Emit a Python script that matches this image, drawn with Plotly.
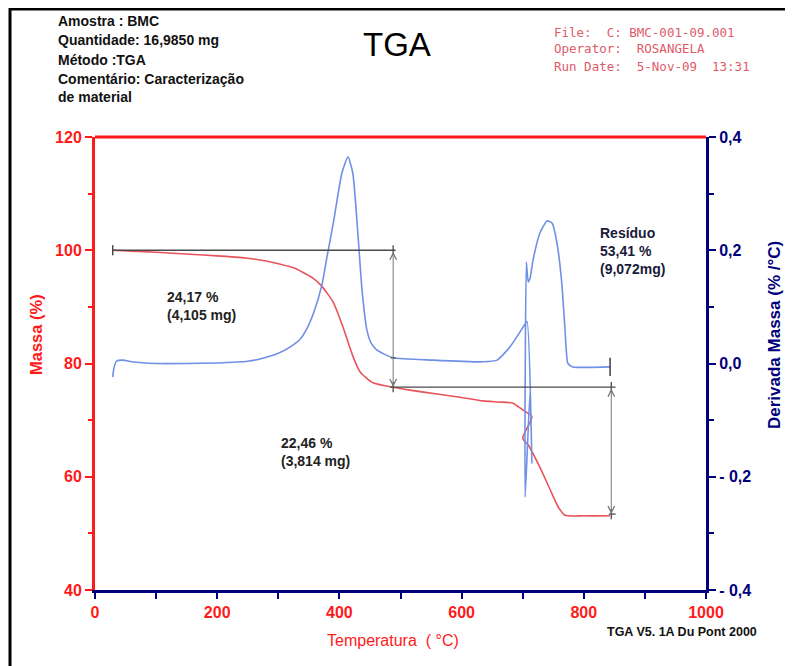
import plotly.graph_objects as go

# ---------------- data ----------------
mass_temp = [29, 60, 100, 155, 200, 250, 280, 305, 325, 340, 355, 370, 390, 406, 422, 434, 455, 488, 515,
             560, 600, 635, 660, 684, 700, 715, 700, 709, 728, 745, 758, 769, 800, 843]
mass_pct = [100.0, 99.85, 99.65, 99.3, 99.0, 98.6, 98.1, 97.5, 96.9, 96.1, 95.2, 93.8, 90.8, 86.4, 81.3, 78.5, 76.6,
            75.8, 75.3, 74.6, 74.0, 73.4, 73.2, 73.0, 71.8, 70.6, 66.8, 65.6, 61.7, 57.7, 54.7, 53.2, 53.1, 53.1]

deriv_temp = [29, 31, 35, 46, 60, 100, 150, 200, 250, 270, 300, 319, 335, 347, 358, 371, 380, 390, 404, 414,
              422, 431, 437, 445, 452, 461, 488, 553, 635, 658, 679, 700, 707, 715, 712, 704, 706, 709, 712, 717,
              728, 740, 748, 756, 764, 769, 774, 782, 843]
deriv_val = [-0.024, -0.008, 0.004, 0.006, 0.003, 0.0, 0.0, 0.001, 0.004, 0.008, 0.018, 0.029, 0.042, 0.062, 0.09,
             0.137, 0.19, 0.248, 0.336, 0.365, 0.336, 0.218, 0.13, 0.059, 0.036, 0.024, 0.010, 0.006, 0.003, 0.006,
             0.029, 0.063, 0.074, -0.176, -0.05, -0.236, 0.179, 0.144, 0.15, 0.183, 0.23, 0.252, 0.248, 0.213,
             0.142, 0.064, 0.0, -0.006, -0.006]

x_ticks = [0, 100, 200, 300, 400, 500, 600, 700, 800, 900, 1000]
x_tick_text = ["0", "", "200", "", "400", "", "600", "", "800", "", "1000"]
y_ticks = [40, 60, 80, 100, 120]
y2_ticks = [-0.4, -0.2, 0.0, 0.2, 0.4]
y2_tick_text = ["- 0,4", "- 0,2", "0,0", "0,2", "0,4"]

start_mass = 100.0
step1_mass = 75.83
residue_mass = 53.41
step1_temp = 488
end_temp = 845
start_temp = 29

header_left = ["Amostra : BMC", "Quantidade: 16,9850 mg", "Método :TGA",
               "Comentário: Caracterização", "de material"]
header_right = ["File:  C: BMC-001-09.001", "Operator:  ROSANGELA", "Run Date:  5-Nov-09  13:31"]

# ---------------- layout helpers ----------------
OFF = 8  # page body margin
W, H = 793 - OFF, 666 - OFF
L, R, T, B = 95 - OFF, 706 - OFF, 137 - OFF, 590 - OFF


def px(xp):
    return (xp - OFF - L) / (R - L)


def py(yp):
    return (B - (yp - OFF)) / (B - T)


RED = "#ff1a1a"
NAVY = "#00007a"
FONT = "Arial, Liberation Sans, sans-serif"

fig = go.Figure()
fig.add_trace(go.Scatter(x=mass_temp, y=mass_pct, mode="lines",
                         line=dict(color="#e8545a", width=1.6, shape="spline", smoothing=0.6),
                         yaxis="y", hoverinfo="skip"))
fig.add_trace(go.Scatter(x=deriv_temp, y=deriv_val, mode="lines",
                         line=dict(color="#6f90e6", width=1.6, shape="spline", smoothing=0.5),
                         yaxis="y2", hoverinfo="skip"))

shapes = []
GRAY = "#4a4a4a"
shapes.append(dict(type="line", xref="x", yref="y", x0=start_temp, x1=step1_temp + 4, y0=start_mass, y1=start_mass,
                   line=dict(color=GRAY, width=1.3)))
shapes.append(dict(type="line", xref="x", yref="y", x0=start_temp, x1=start_temp, y0=start_mass - 0.9,
                   y1=start_mass + 0.9, line=dict(color=GRAY, width=1.5)))
shapes.append(dict(type="line", xref="x", yref="y", x0=step1_temp - 5, x1=end_temp + 7, y0=step1_mass, y1=step1_mass,
                   line=dict(color=GRAY, width=1.3)))
shapes.append(dict(type="line", xref="x", yref="y", x0=end_temp - 4, x1=end_temp + 7, y0=residue_mass,
                   y1=residue_mass, line=dict(color=GRAY, width=1.3)))
for (cx, cy) in [(step1_temp, start_mass), (step1_temp, step1_mass), (end_temp, step1_mass),
                 (end_temp, residue_mass)]:
    shapes.append(dict(type="line", xref="x", yref="y", x0=cx, x1=cx, y0=cy - 0.9, y1=cy + 0.9,
                       line=dict(color=GRAY, width=1.3)))
shapes.append(dict(type="line", xref="x", yref="y2", x0=843, x1=843, y0=-0.022, y1=0.01,
                   line=dict(color="#222", width=1.3)))
shapes.append(dict(type="line", xref="x", yref="y2", x0=step1_temp - 4, x1=step1_temp + 4, y0=0.010, y1=0.010,
                   line=dict(color=GRAY, width=1.3)))
shapes.append(dict(type="line", xref="paper", yref="paper", x0=0, x1=1, y0=1, y1=1,
                   line=dict(color=RED, width=3)))
shapes.append(dict(type="rect", xref="paper", yref="paper", x0=px(10), x1=px(830), y0=py(9), y1=py(730),
                   line=dict(color="black", width=3), fillcolor="rgba(0,0,0,0)"))

ann = []
for (ax_x, y_top, y_bot) in [(step1_temp, start_mass, step1_mass), (end_temp, step1_mass, residue_mass)]:
    ann.append(dict(x=ax_x, y=y_bot, ax=ax_x, ay=y_top, xref="x", yref="y", axref="x", ayref="y",
                    showarrow=True, arrowhead=5, startarrowhead=5, arrowside="end+start", arrowsize=1.3,
                    arrowwidth=1, arrowcolor="#777", text=""))


def txt(text, x, y, size, color, xanchor="left", bold=False, angle=0, family=FONT):
    if bold:
        text = "<b>" + text + "</b>"
    ann.append(dict(text=text, x=px(x), y=py(y), xref="paper", yref="paper", showarrow=False,
                    xanchor=xanchor, yanchor="middle", align="left", textangle=angle,
                    font=dict(size=size, color=color, family=family)))


for i, s in enumerate(header_left):
    txt(s, 56, [21, 40, 60, 79, 97][i], 14, "#111", bold=True)
txt("TGA", 397, 44, 33, "black", xanchor="center")
for i, s in enumerate(header_right):
    txt(s, 552, [33, 49, 66][i], 12.5, "#e05a68", family="DejaVu Sans Mono, monospace")

txt("24,17 %<br>(4,105 mg)", 165, 306, 14, "#222", bold=True)
txt("22,46 %<br>(3,814 mg)", 279, 452, 14, "#222", bold=True)
txt("Resíduo<br>53,41 %<br>(9,072mg)", 598, 251, 14, "#1a1a3a", bold=True)

txt("Massa (%)", 36, 335, 16.5, RED, xanchor="center", bold=True, angle=-90)
txt("Derivada Massa (% /°C)", 774, 335, 17, NAVY, xanchor="center", bold=True, angle=-90)
txt("Temperatura  ( °C)", 393, 640, 16, RED, xanchor="center")
txt("TGA V5. 1A Du Pont 2000", 682, 632, 12.5, "#111", xanchor="center", bold=True)

fig.update_layout(
    width=W, height=H,
    margin=dict(l=L, r=W - R, t=T, b=H - B, pad=0),
    paper_bgcolor="white", plot_bgcolor="white",
    showlegend=False,
    font=dict(family=FONT),
    xaxis=dict(range=[0, 1000], tickvals=x_ticks, ticktext=x_tick_text, showgrid=False, zeroline=False,
               showline=True, linecolor=NAVY, linewidth=3, ticks="outside", ticklen=6, tickwidth=2,
               tickcolor=NAVY, tickfont=dict(size=16, color=RED, family=FONT, weight="bold")),
    yaxis=dict(range=[40, 120], tickvals=y_ticks, showgrid=False, zeroline=False, showline=True,
               linecolor=RED, linewidth=3, ticks="outside", ticklen=7, tickwidth=1.5, tickcolor=RED,
               minor=dict(dtick=10, ticks="outside", ticklen=4, tickcolor=RED),
               tickfont=dict(size=16, color=RED, family=FONT, weight="bold")),
    yaxis2=dict(range=[-0.4, 0.4], tickvals=y2_ticks, ticktext=y2_tick_text, overlaying="y", side="right",
                showgrid=False, zeroline=False, showline=True, linecolor=NAVY, linewidth=3, ticks="outside",
                ticklen=7, tickwidth=2, tickcolor=NAVY,
                minor=dict(dtick=0.1, ticks="outside", ticklen=5, tickcolor=NAVY),
                tickfont=dict(size=16, color=NAVY, family=FONT, weight="bold")),
    shapes=shapes,
    annotations=ann,
)

fig.write_html("out.html")
